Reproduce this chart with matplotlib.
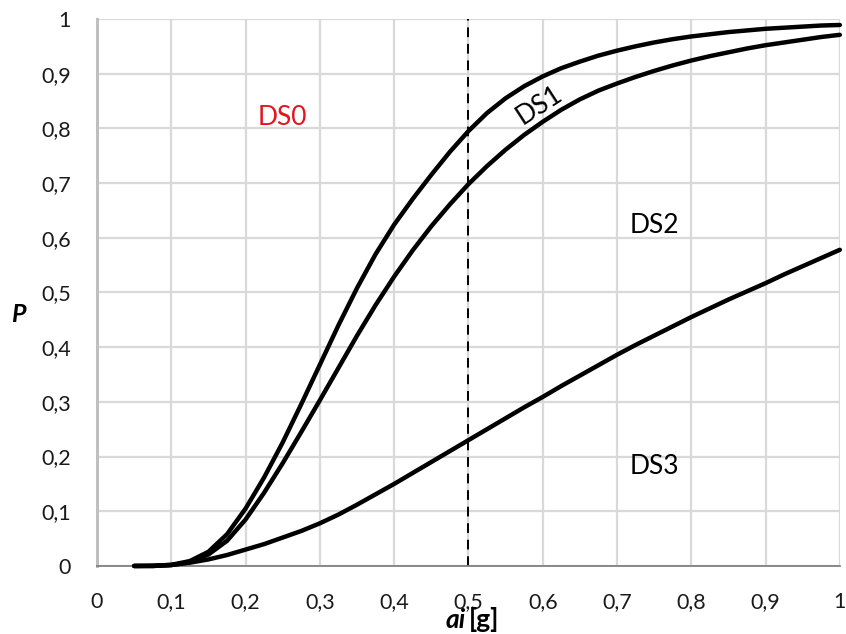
import matplotlib.pyplot as plt

# ground acceleration ai [g]
ai = [0.05, 0.075, 0.1, 0.125, 0.15, 0.175, 0.2, 0.225, 0.25, 0.275,
      0.3, 0.325, 0.35, 0.375, 0.4, 0.425, 0.45, 0.475, 0.5, 0.525,
      0.55, 0.575, 0.6, 0.625, 0.65, 0.675, 0.7, 0.725, 0.75, 0.775,
      0.8, 0.825, 0.85, 0.875, 0.9, 0.925, 0.95, 0.975, 1.0]

# probability of exceeding each damage state
p_ds1 = [0.0, 0.0, 0.002, 0.009, 0.026, 0.058, 0.105, 0.162, 0.226, 0.296,
         0.368, 0.44, 0.508, 0.57, 0.624, 0.671, 0.715, 0.757, 0.795, 0.828,
         0.855, 0.877, 0.895, 0.91, 0.922, 0.933, 0.942, 0.95, 0.957, 0.963,
         0.968, 0.972, 0.976, 0.979, 0.982, 0.984, 0.986, 0.988, 0.989]
p_ds2 = [0.0, 0.0, 0.0015, 0.007, 0.021, 0.046, 0.085, 0.134, 0.188, 0.245,
         0.303, 0.362, 0.421, 0.477, 0.529, 0.577, 0.621, 0.661, 0.698, 0.731,
         0.761, 0.788, 0.812, 0.834, 0.853, 0.869, 0.882, 0.894, 0.905, 0.915,
         0.924, 0.932, 0.939, 0.946, 0.952, 0.957, 0.962, 0.967, 0.971]
p_ds3 = [0.0, 0.0005, 0.002, 0.006, 0.012, 0.02, 0.03, 0.04, 0.052, 0.064,
         0.078, 0.094, 0.112, 0.131, 0.15, 0.17, 0.19, 0.21, 0.23, 0.25,
         0.27, 0.29, 0.309, 0.329, 0.348, 0.367, 0.386, 0.404, 0.421, 0.438,
         0.455, 0.471, 0.487, 0.502, 0.517, 0.533, 0.548, 0.563, 0.578]

ticks = [0, 0.1, 0.2, 0.3, 0.4, 0.5, 0.6, 0.7, 0.8, 0.9, 1]
tick_labels = ['0', '0,1', '0,2', '0,3', '0,4', '0,5', '0,6', '0,7', '0,8', '0,9', '1']
a_ref = 0.5

plt.rcParams['font.family'] = ['Lato', 'DejaVu Sans']

fig = plt.figure(figsize=(8.46, 6.34), dpi=100)
ax = fig.add_axes([0.1147, 0.1073, 0.878, 0.8628])

for p in (p_ds1, p_ds2, p_ds3):
    ax.plot(ai, p, color='black', lw=3.2, solid_capstyle='round',
            solid_joinstyle='round', clip_on=False, zorder=3)

# reference acceleration
ax.axvline(a_ref, color='black', lw=1.4, ls=(0, (5, 3.5)), zorder=2)

ax.set_xlim(0, 1)
ax.set_ylim(0, 1)
ax.set_xticks(ticks)
ax.set_xticklabels(tick_labels)
ax.set_yticks(ticks)
ax.set_yticklabels(tick_labels)
ax.tick_params(length=0, labelsize=15.5, colors='#1a1a1a')
ax.tick_params(axis='x', pad=19)
ax.tick_params(axis='y', pad=19)

ax.grid(True, color='#d9d9d9', lw=1.6)
ax.set_axisbelow(True)
for s in ('top', 'right'):
    ax.spines[s].set_visible(False)
ax.spines['left'].set_color('#bfbfbf')
ax.spines['left'].set_linewidth(2.2)
ax.spines['bottom'].set_color('#808080')
ax.spines['bottom'].set_linewidth(1.3)

# damage state labels
ax.text(0.25, 0.82, 'DS0', color='#e3141c', fontsize=19, ha='center', va='center')
ax.text(0.596, 0.843, 'DS1', fontsize=19, ha='center', va='center', rotation=33)
ax.text(0.751, 0.622, 'DS2', fontsize=19, ha='center', va='center')
ax.text(0.751, 0.181, 'DS3', fontsize=19, ha='center', va='center')

# axis titles
ax.text(-0.106, 0.459, 'P', transform=ax.transAxes, fontsize=18,
        fontweight='bold', fontstyle='italic', ha='center', va='center')
ax.text(0.497, -0.098, 'ai', transform=ax.transAxes, fontsize=19,
        fontweight='bold', fontstyle='italic', ha='right', va='center')
ax.text(0.501, -0.098, '[g]', transform=ax.transAxes, fontsize=19,
        fontweight='bold', ha='left', va='center')

fig.savefig('out.png', dpi=100)
